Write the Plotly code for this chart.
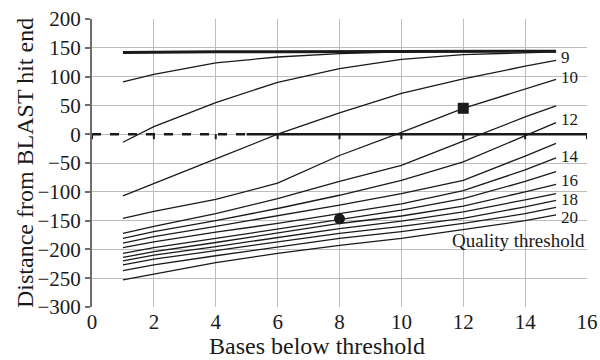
import plotly.graph_objects as go

# ---- data ----
x_points = [1, 2, 4, 6, 8, 10, 12, 14, 15]

top_line = [142, 142.5, 143, 143, 143, 143.5, 144, 144, 144]
curve_7 = [91, 104, 124, 134, 140, 143, 143.5, 144, 144]
curve_8 = [-14, 13, 55, 90, 114, 130, 138, 142, 143]
curve_9 = [-107, -86, -43, 0, 37, 71, 96, 118, 128]
curve_10 = [-146, -134, -113, -85, -37, 3, 45, 79, 95]
curve_11 = [-172, -160, -138, -112, -82, -54, -12, 30, 49]
curve_12 = [-181, -169, -150, -129, -106, -80, -48, -3, 20]
curve_13 = [-189, -178, -160, -142, -123, -103, -80, -38, -16]
curve_14 = [-197, -187, -170, -155, -138, -121, -98, -62, -41]
curve_15 = [-207, -197, -181, -165, -148, -132, -112, -82, -65]
curve_16 = [-214, -204, -188, -172, -155, -142, -125, -100, -87]
curve_17 = [-220, -210, -195, -180, -164, -151, -135, -114, -103]
curve_18 = [-227, -217, -202, -187, -172, -160, -146, -126, -115]
curve_19 = [-237, -227, -211, -196, -181, -169, -155, -138, -127]
curve_20 = [-253, -243, -223, -207, -193, -181, -166, -150, -140]

thin_curves = {
    "7": curve_7, "8": curve_8, "9": curve_9, "10": curve_10, "11": curve_11,
    "12": curve_12, "13": curve_13, "14": curve_14, "15": curve_15,
    "16": curve_16, "17": curve_17, "18": curve_18, "19": curve_19, "20": curve_20,
}
label_names = ["9", "10", "12", "14", "16", "18", "20"]
label_values = [133, 98, 26, -39, -81, -113, -145]

square_point = (12, 45)
circle_point = (8, -147)

x_ticks = [0, 2, 4, 6, 8, 10, 12, 14, 16]
y_ticks = [-300, -250, -200, -150, -100, -50, 0, 50, 100, 150, 200]

x_title = "Bases below threshold"
y_title = "Distance from BLAST hit end"
legend_title = "Quality threshold"

# ---- figure ----
SERIF = "Liberation Serif, Times New Roman, DejaVu Serif, serif"
INK = "#1a1a1a"

fig = go.Figure()

for name, vals in thin_curves.items():
    fig.add_trace(go.Scatter(x=x_points, y=vals, mode="lines",
                             line=dict(color=INK, width=1.3), hoverinfo="skip",
                             showlegend=False, name=name))

fig.add_trace(go.Scatter(x=x_points, y=top_line, mode="lines",
                         line=dict(color=INK, width=3), showlegend=False))

fig.add_trace(go.Scatter(x=[square_point[0]], y=[square_point[1]], mode="markers",
                         marker=dict(symbol="square", size=11, color=INK),
                         showlegend=False))
fig.add_trace(go.Scatter(x=[circle_point[0]], y=[circle_point[1]], mode="markers",
                         marker=dict(symbol="circle", size=11, color=INK),
                         showlegend=False))

# zero reference line: dashed on the left part, solid on the rest
fig.add_shape(type="line", xref="x", yref="y", x0=0, x1=5, y0=0, y1=0,
              line=dict(color=INK, width=2.5, dash="dash"), layer="above")
fig.add_shape(type="line", xref="x", yref="y", x0=5, x1=16, y0=0, y1=0,
              line=dict(color=INK, width=2.5), layer="above")
for xt in x_ticks:
    fig.add_shape(type="line", xref="x", yref="y", ysizemode="pixel", yanchor=0,
                  x0=xt, x1=xt, y0=-5, y1=0, line=dict(color=INK, width=2))

# curve labels
for name, yv in zip(label_names, label_values):
    fig.add_annotation(x=15.08, y=yv, xref="x", yref="y",
                       text=name, showarrow=False, xanchor="left", yanchor="middle",
                       font=dict(family=SERIF, size=17, color=INK))

fig.add_annotation(x=1, y=-184, xref="paper", yref="y", text=legend_title,
                   showarrow=False, xanchor="right", yanchor="middle",
                   font=dict(family=SERIF, size=19, color=INK))

# axis titles
fig.add_annotation(x=(317 - 92) / 495, y=(307 - 346) / 288, xref="paper", yref="paper",
                   text=x_title, showarrow=False, xanchor="center", yanchor="middle",
                   font=dict(family=SERIF, size=24, color=INK))
fig.add_annotation(x=(25 - 92) / 495, y=(307 - 163) / 288, xref="paper", yref="paper",
                   text=y_title, showarrow=False, xanchor="center", yanchor="middle",
                   textangle=-90, font=dict(family=SERIF, size=24, color=INK))

fig.update_layout(
    width=600, height=360,
    margin=dict(l=92, r=13, t=19, b=53, autoexpand=False),
    paper_bgcolor="white", plot_bgcolor="white",
    showlegend=False,
    xaxis=dict(range=[0, 16], tickvals=x_ticks, showgrid=True, gridcolor="#bdbdbd",
               gridwidth=1, zeroline=False, showline=False, ticks="", automargin=False,
               tickfont=dict(family=SERIF, size=21, color=INK)),
    yaxis=dict(range=[-300, 200], tickvals=y_ticks, showgrid=True, gridcolor="#bdbdbd",
               gridwidth=1, zeroline=False, showline=True, linecolor="#6e6e6e",
               linewidth=2, ticks="outside", ticklen=5, tickcolor="#6e6e6e",
               tickwidth=1.5, automargin=False,
               tickfont=dict(family=SERIF, size=21, color=INK)),
)

fig.write_html("out.html")
